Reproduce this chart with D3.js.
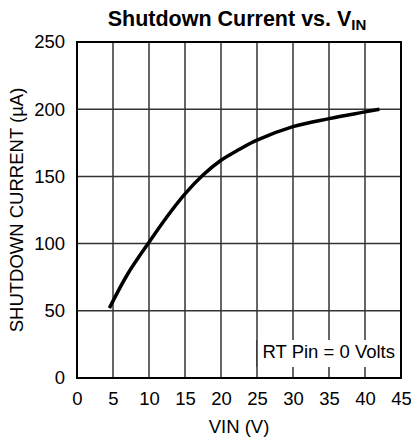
<!DOCTYPE html>
<html>
<head>
<meta charset="utf-8">
<script src="https://cdn.jsdelivr.net/npm/d3@7"></script>
<style>
  body { margin: 0; background: #fff; }
  svg text { font-family: "Liberation Sans", Arial, sans-serif; fill: #000; }
</style>
</head>
<body>
<div id="container"></div>
<script>
// curve
var vin = [4.5, 7, 10, 12.5, 15, 17.5, 20, 22.5, 25, 30, 35, 40, 42];
var current = [52, 77, 101, 120, 137, 151, 162, 170, 177, 187, 193, 198, 200];

var xTicks = [0, 5, 10, 15, 20, 25, 30, 35, 40, 45];
var yTicks = [0, 50, 100, 150, 200, 250];

var W = 411, H = 440;
var margin = { top: 42, right: 10, bottom: 62, left: 77 };
var width = W - margin.left - margin.right,
    height = H - margin.top - margin.bottom;

var svg = d3.select("#container").append("svg")
    .attr("width", W)
    .attr("height", H);

var g = svg.append("g")
    .attr("transform", "translate(" + margin.left + "," + margin.top + ")");

var x = d3.scaleLinear().domain([0, 45]).range([0, width]);
var y = d3.scaleLinear().domain([0, 250]).range([height, 0]);

// grid
g.append("g")
    .selectAll("line")
    .data(xTicks)
    .enter().append("line")
    .attr("x1", d => x(d)).attr("x2", d => x(d))
    .attr("y1", 0).attr("y2", height)
    .attr("stroke", "#333").attr("stroke-width", 1.5);

g.append("g")
    .selectAll("line")
    .data(yTicks)
    .enter().append("line")
    .attr("x1", 0).attr("x2", width)
    .attr("y1", d => y(d)).attr("y2", d => y(d))
    .attr("stroke", "#333").attr("stroke-width", 1.5);

// note box (white, hides the grid behind it)
var boxX = x(25), boxTop = 298, boxBottom = 325;
g.append("rect")
    .attr("x", boxX).attr("y", boxTop)
    .attr("width", width - boxX).attr("height", boxBottom - boxTop)
    .attr("fill", "#fff");
g.append("line")
    .attr("x1", boxX).attr("x2", boxX)
    .attr("y1", boxTop).attr("y2", boxBottom)
    .attr("stroke", "#333").attr("stroke-width", 1.5);
g.append("text")
    .attr("x", width - 6).attr("y", 316)
    .attr("text-anchor", "end")
    .style("font-size", "18.5px")
    .text("RT Pin = 0 Volts");

// frame
g.append("rect")
    .attr("x", 0).attr("y", 0)
    .attr("width", width).attr("height", height)
    .attr("fill", "none")
    .attr("stroke", "#000").attr("stroke-width", 2);

// curve
var line = d3.line()
    .x(d => x(d[0]))
    .y(d => y(d[1]))
    .curve(d3.curveCatmullRom.alpha(0.5));

g.append("path")
    .datum(d3.zip(vin, current))
    .attr("d", line)
    .attr("fill", "none")
    .attr("stroke", "#000")
    .attr("stroke-width", 3.5);

// axes labels
var xAxis = g.append("g")
    .attr("transform", "translate(0," + height + ")")
    .call(d3.axisBottom(x).tickValues(xTicks).tickSize(0).tickPadding(14));
xAxis.select(".domain").remove();
xAxis.selectAll("text").style("font-size", "18.5px").attr("fill", "#000");

var yAxis = g.append("g")
    .call(d3.axisLeft(y).tickValues(yTicks).tickSize(0).tickPadding(12));
yAxis.select(".domain").remove();
yAxis.selectAll("text").style("font-size", "18.5px").attr("fill", "#000");

svg.append("text")
    .attr("x", margin.left + width / 2)
    .attr("y", 433)
    .attr("text-anchor", "middle")
    .style("font-size", "18.5px")
    .text("VIN (V)");

svg.append("text")
    .attr("transform", "translate(23," + (margin.top + height / 2) + ") rotate(-90)")
    .attr("text-anchor", "middle")
    .style("font-size", "18.5px")
    .text("SHUTDOWN CURRENT (\u00b5A)");

// title
var title = svg.append("text")
    .attr("x", 237)
    .attr("y", 26)
    .attr("text-anchor", "middle")
    .style("font-size", "21.5px")
    .style("font-weight", "bold");
title.append("tspan").text("Shutdown Current vs. V");
title.append("tspan")
    .attr("dy", 4)
    .style("font-size", "15px")
    .text("IN");
</script>
</body>
</html>
